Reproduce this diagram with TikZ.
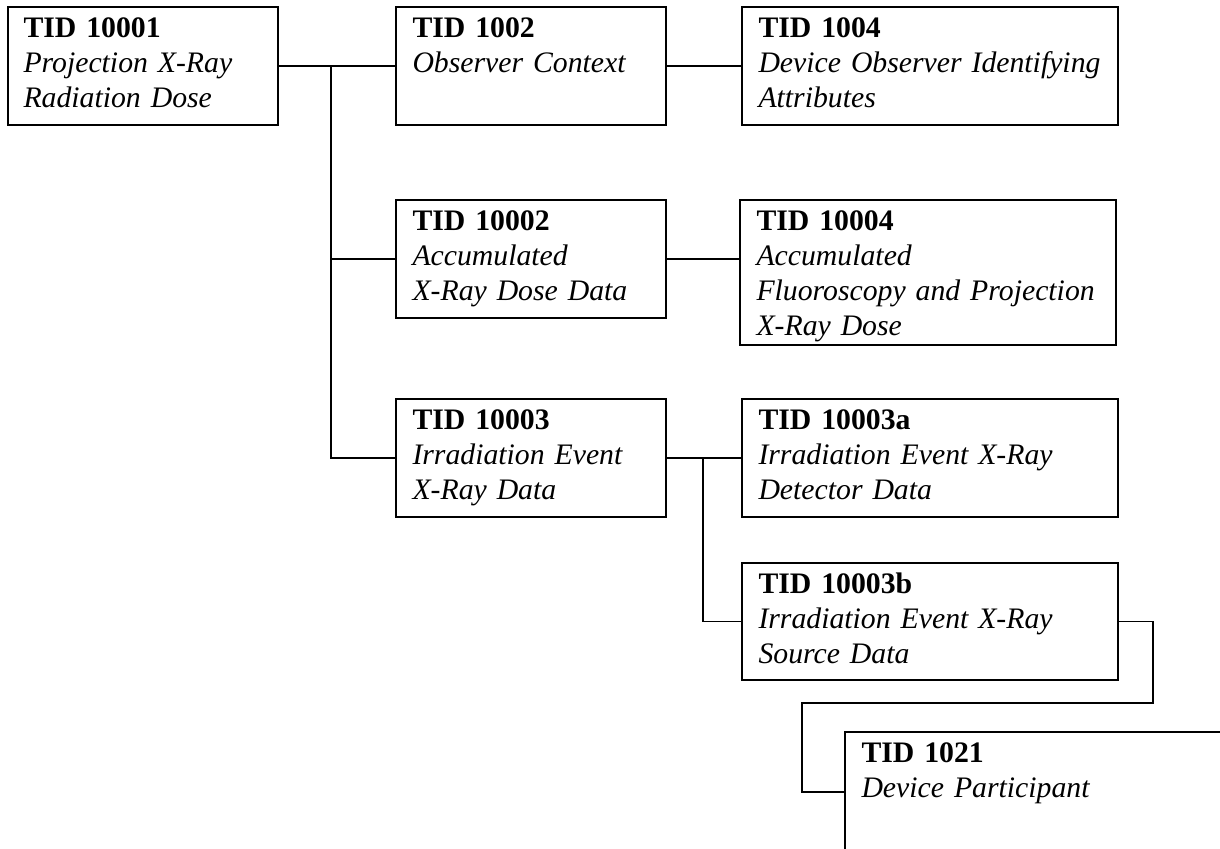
\documentclass[tikz,border=0pt]{standalone}
\usepackage{fontspec}
\setmainfont[WordSpace=0.8]{Liberation Serif}
\usepackage{tikz}
\usetikzlibrary{calc,positioning}

\begin{document}
\begin{tikzpicture}[
          x=0.4pt,y=-0.4pt,
          tidbox/.style={draw,line width=0.8pt,inner sep=0pt,anchor=north west,
                         minimum width=108pt,minimum height=47.2pt},
          widebox/.style={tidbox,minimum width=150.4pt},
          tidtext/.style={anchor=base west,inner sep=0pt,text width=170pt,align=left,
                          font=\fontsize{11.9}{14}\selectfont},
          ln/.style={line width=0.5pt}
        ]
          \useasboundingbox (0,0) rectangle (1220,848);
          \clip (0,0) rectangle (1220,848);

          % boxes
          \node(b10001)[tidbox] at (7,6) {};
          \node(b1002)[tidbox] at (395,6) {};
          \node(b1004)[widebox] at (741,6) {};
          \node(b10002)[tidbox] at (395,199) {};
          \node(b10004)[widebox,minimum height=58pt] at (739,199) {};
          \node(b10003)[tidbox] at (395,398) {};
          \node(b10003a)[widebox] at (741,398) {};
          \node(b10003b)[widebox,minimum height=46.8pt] at (741,562) {};
          \node(b1021)[tidbox,minimum width=160pt,minimum height=48pt] at (844,731) {};

          % texts
          \node(t10001)[tidtext] at ($(b10001.north west)+(16,31)$)
            {\textbf{TID 10001}\\\textit{Projection X-Ray}\\\textit{Radiation Dose}};
          \node(t1002)[tidtext] at ($(b1002.north west)+(17,31)$)
            {\textbf{TID 1002}\\\textit{Observer Context}};
          \node(t1004)[tidtext] at ($(b1004.north west)+(17,31)$)
            {\textbf{TID 1004}\\\textit{Device Observer Identifying}\\\textit{Attributes}};
          \node(t10002)[tidtext] at ($(b10002.north west)+(17,31)$)
            {\textbf{TID 10002}\\\textit{Accumulated}\\\textit{X-Ray Dose Data}};
          \node(t10004)[tidtext] at ($(b10004.north west)+(17,31)$)
            {\textbf{TID 10004}\\\textit{Accumulated}\\\textit{Fluoroscopy and Projection}\\\textit{X-Ray Dose}};
          \node(t10003)[tidtext] at ($(b10003.north west)+(17,31)$)
            {\textbf{TID 10003}\\\textit{Irradiation Event}\\\textit{X-Ray Data}};
          \node(t10003a)[tidtext] at ($(b10003a.north west)+(17,31)$)
            {\textbf{TID 10003a}\\\textit{Irradiation Event X-Ray}\\\textit{Detector Data}};
          \node(t10003b)[tidtext] at ($(b10003b.north west)+(17,31)$)
            {\textbf{TID 10003b}\\\textit{Irradiation Event X-Ray}\\\textit{Source Data}};
          \node(t1021)[tidtext] at ($(b1021.north west)+(17,31)$)
            {\textbf{TID 1021}\\\textit{Device Participant}};

          % connectors
          \coordinate(tr) at (331,0);
          \coordinate(sub) at (703,0);
          \coordinate(br) at (1153,703);
          \coordinate(jog) at (802,703);

          \draw[ln] (b10001.east) -- (b1002.west);
          \draw[ln] (b1002.east) -- (b1004.west);
          \draw[ln] (tr |- b10001.east) |- (b10003.west);
          \draw[ln] (tr |- b10002.west) -- (b10002.west);
          \draw[ln] (b10002.east) -- (b10002.east -| b10004.west);
          \draw[ln] (b10003.east) -- (b10003a.west);
          \draw[ln] (sub |- b10003.east) |- (b10003b.west);
          \draw[ln] (b10003b.east) -| (br) -- (jog) |- (b1021.west);
        \end{tikzpicture}
\end{document}
